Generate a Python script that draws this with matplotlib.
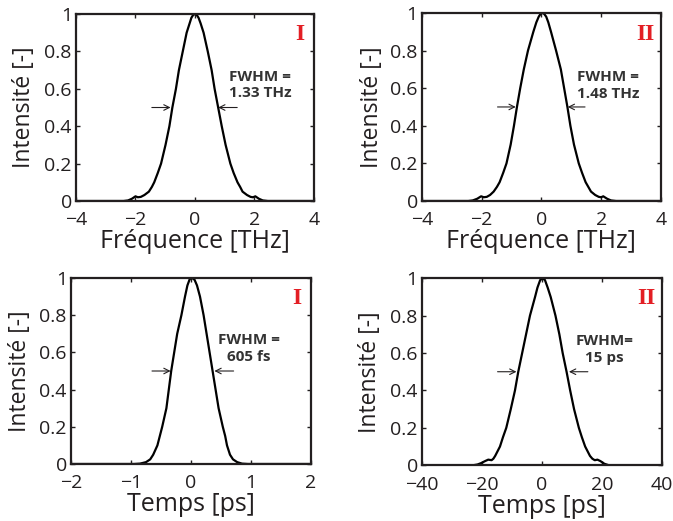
import matplotlib
matplotlib.use('Agg')
import matplotlib.pyplot as plt

plt.rcParams['font.family'] = ['Open Sans', 'DejaVu Sans']

# Spectre I (fréquence, THz)
freq_1 = [-4, -2.4, -2.25, -2.12, -2.0, -1.92, -1.82, -1.7, -1.55, -1.45,
          -1.37, -1.25, -1.14, -0.99, -0.86, -0.76, -0.64, -0.54, -0.41, -0.28,
          -0.18, -0.12, -0.06, 0, 0.06, 0.12, 0.19, 0.29, 0.43, 0.56,
          0.66, 0.78, 0.90, 1.03, 1.19, 1.3, 1.43, 1.52, 1.6, 1.75,
          1.87, 1.95, 2.03, 2.15, 2.28, 2.45, 4]
spec_1 = [0, 0, 0.003, 0.012, 0.025, 0.02, 0.022, 0.032, 0.05, 0.075,
          0.1, 0.15, 0.2, 0.3, 0.4, 0.5, 0.6, 0.7, 0.8, 0.9,
          0.95, 0.98, 0.995, 1, 0.995, 0.98, 0.95, 0.9, 0.8, 0.7,
          0.6, 0.5, 0.4, 0.3, 0.2, 0.15, 0.1, 0.075, 0.05, 0.032,
          0.022, 0.02, 0.025, 0.012, 0.003, 0, 0]

# Spectre II (fréquence, THz)
freq_2 = [-4, -2.45, -2.3, -2.15, -2.02, -1.93, -1.83, -1.72, -1.6, -1.49,
          -1.40, -1.28, -1.17, -1.03, -0.92, -0.82, -0.71, -0.59, -0.45, -0.27,
          -0.17, -0.09, -0.03, 0.03, 0.09, 0.16, 0.23, 0.32, 0.49, 0.65,
          0.76, 0.87, 0.97, 1.09, 1.25, 1.36, 1.48, 1.57, 1.66, 1.8,
          1.92, 2.0, 2.07, 2.2, 2.33, 2.5, 4]
spec_2 = [0, 0, 0.003, 0.012, 0.025, 0.02, 0.022, 0.032, 0.05, 0.075,
          0.1, 0.15, 0.2, 0.3, 0.4, 0.5, 0.6, 0.7, 0.8, 0.9,
          0.95, 0.98, 0.995, 1, 0.995, 0.98, 0.95, 0.9, 0.8, 0.7,
          0.6, 0.5, 0.4, 0.3, 0.2, 0.15, 0.1, 0.075, 0.05, 0.032,
          0.022, 0.02, 0.025, 0.012, 0.003, 0, 0]

# Impulsion I (temps, ps)
time_1 = [-2, -0.95, -0.85, -0.75, -0.68, -0.63, -0.56, -0.52, -0.48, -0.41,
          -0.37, -0.33, -0.28, -0.23, -0.16, -0.10, -0.06, -0.02, 0.02, 0.06,
          0.10, 0.15, 0.21, 0.26, 0.31, 0.36, 0.41, 0.46, 0.53, 0.57,
          0.60, 0.65, 0.7, 0.77, 0.85, 0.95, 2]
puls_1 = [0, 0, 0.002, 0.01, 0.025, 0.05, 0.1, 0.15, 0.2, 0.3,
          0.4, 0.5, 0.6, 0.7, 0.8, 0.9, 0.96, 0.995, 1, 0.99,
          0.96, 0.9, 0.8, 0.7, 0.6, 0.5, 0.4, 0.3, 0.2, 0.15,
          0.1, 0.05, 0.025, 0.01, 0.002, 0, 0]

# Impulsion II (temps, ps)
time_2 = [-40, -23, -21.5, -20.2, -19, -17.9, -16.8, -16.2, -15.6, -14.8,
          -14.0, -13, -11.9, -10.4, -9.0, -7.9, -6.6, -5.3, -4.0, -2.3,
          -1.5, -0.6, 0.2, 1.0, 1.9, 2.9, 4.5, 5.8, 6.9, 8.2,
          9.4, 10.7, 12.3, 13.3, 14.4, 15.2, 16.0, 16.8, 17.6, 18.5,
          19.5, 20.8, 22.3, 40]
puls_2 = [0, 0, 0.004, 0.012, 0.022, 0.03, 0.027, 0.035, 0.05, 0.075,
          0.1, 0.15, 0.2, 0.3, 0.4, 0.5, 0.6, 0.7, 0.8, 0.9,
          0.95, 0.99, 1, 0.99, 0.95, 0.9, 0.8, 0.7, 0.6, 0.5,
          0.4, 0.3, 0.2, 0.15, 0.1, 0.075, 0.05, 0.035, 0.027, 0.03,
          0.022, 0.008, 0, 0]

panels = [
    # (x, y, rect, xlim, xticks, xlabel, fwhm text, text pos, arrows, numeral, numeral pos, ylabel x)
    (freq_1, spec_1, [0.1129, 0.6142, 0.3536, 0.3589], (-4, 4), [-4, -2, 0, 2, 4],
     'Fréquence [THz]', 'FWHM =\n1.33 THz', (2.18, 0.62), ((-1.45, -0.82), (1.42, 0.78)),
     'I', (3.52, 0.89), -0.168),
    (freq_2, spec_2, [0.627, 0.6142, 0.355, 0.361], (-4, 4), [-4, -2, 0, 2, 4],
     'Fréquence [THz]', 'FWHM =\n1.48 THz', (2.24, 0.615), ((-1.47, -0.86), (1.46, 0.88)),
     'II', (3.49, 0.885), -0.159),
    (time_1, puls_1, [0.1055, 0.1094, 0.3566, 0.357], (-2, 2), [-2, -1, 0, 1, 2],
     'Temps [ps]', 'FWHM =\n605 fs', (0.97, 0.62), ((-0.65, -0.34), (0.71, 0.39)),
     'I', (1.77, 0.89), -0.163),
    (time_2, puls_2, [0.627, 0.107, 0.3566, 0.359], (-40, 40), [-40, -20, 0, 20, 40],
     'Temps [ps]', 'FWHM=\n15 ps', (20.7, 0.62), ((-14.8, -8.5), (15.3, 9.0)),
     'II', (34.8, 0.89), -0.167),
]

ink = '#231f20'
fig = plt.figure(figsize=(6.73, 5.21), dpi=100)

for (x, y, rect, xlim, xticks, xlabel, fwhm, tpos, arrows, num, npos, ylx) in panels:
    ax = fig.add_axes(rect)
    ax.plot(x, y, color='black', lw=1.6, solid_joinstyle='round')
    ax.set_xlim(*xlim)
    ax.set_ylim(0, 1)
    ax.set_xticks(xticks)
    ax.set_yticks([0, 0.2, 0.4, 0.6, 0.8, 1])
    ax.set_yticklabels(['0', '0.2', '0.4', '0.6', '0.8', '1'])
    ax.tick_params(direction='in', top=True, right=True, length=3, width=1,
                   labelsize=14, colors=ink)
    ax.tick_params(axis='x', pad=7.5)
    ax.tick_params(axis='y', pad=3)
    for sp in ax.spines.values():
        sp.set_linewidth(1.6)
        sp.set_color(ink)
    ax.set_xlabel(xlabel, fontsize=18, color=ink, labelpad=0)
    ax.set_ylabel('Intensité [-]', fontsize=16.5, color=ink)
    ax.yaxis.set_label_coords(ylx, 0.5)

    ax.text(tpos[0], tpos[1], fwhm, ha='center', va='center', fontsize=11,
            fontweight='bold', color='#333333', linespacing=1.25)
    for (x0, x1) in arrows:
        ax.annotate('', xy=(x1, 0.5), xytext=(x0, 0.5),
                    arrowprops=dict(arrowstyle='->', lw=0.8, color=ink,
                                    shrinkA=0, shrinkB=0))
    ax.text(npos[0], npos[1], num, ha='center', va='center', fontsize=17,
            fontweight='bold', color='#e31e24', family='Liberation Serif')

fig.savefig('out.png', dpi=100)
